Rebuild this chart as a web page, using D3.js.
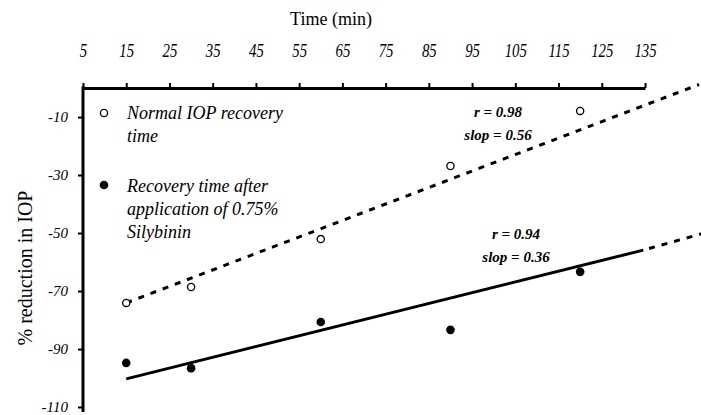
<!DOCTYPE html>
<html><head><meta charset="utf-8">
<script src="https://cdn.jsdelivr.net/npm/d3@7/dist/d3.min.js"></script>
<style>body{margin:0;background:#fff}svg{display:block}</style>
</head><body><svg id="c" width="701" height="415"></svg>
<script>
const times = [15, 30, 60, 90, 120];
const normalIOP = [-74.1, -68.6, -52.1, -26.9, -7.9];
const silybinin = [-94.8, -96.6, -80.7, -83.4, -63.4];
const xTicks = [5,15,25,35,45,55,65,75,85,95,105,115,125,135];
const yTicks = [-10,-30,-50,-70,-90,-110];
const normalTrend = [[15,-74.1],[147.5,1.2]];
const silyTrend = [[15,-100.3],[134.6,-55.9]];
const silyTrendExt = [[134.6,-55.9],[148,-50.3]];
const legendNormal = ["Normal IOP recovery","time"];
const legendSily = ["Recovery time after","application of 0.75%","Silybinin"];
const statsNormal = ["r = 0.98","slop = 0.56"];
const statsSily = ["r = 0.94","slop = 0.36"];

const svg = d3.select("#c");
const x = d3.scaleLinear().domain([5,135]).range([83,645]);
const y = d3.scaleLinear().domain([0,-110]).range([88,407]);
const serif = "'Liberation Serif','Times New Roman',serif";
const fmt = d => String(d);

// title
svg.append("text").attr("x",331).attr("y",25).attr("text-anchor","middle")
  .attr("font-family",serif).attr("font-size",18).text("Time (min)");

// top axis
const gx = svg.append("g").attr("transform",`translate(0,${y(0)})`)
  .call(d3.axisTop(x).tickValues(xTicks).tickFormat(fmt).tickSize(5).tickSizeOuter(0).tickPadding(26));
gx.select(".domain").attr("stroke-width",3);
gx.selectAll(".tick line").attr("stroke-width",2);
gx.selectAll(".tick text").attr("font-family",serif).attr("font-style","italic")
  .attr("font-size",19).attr("fill","#000").attr("dy",0).attr("transform","scale(0.78,1)")
  .attr("x",0);

// left axis
const gy = svg.append("g").attr("transform",`translate(${x(5)},0)`)
  .call(d3.axisLeft(y).tickValues(yTicks).tickFormat(fmt).tickSize(5).tickSizeOuter(0).tickPadding(10));
gy.select(".domain").attr("stroke-width",3).attr("d",`M0,${y(0)-1.5}V${y(-110)+5}`);
gy.selectAll(".tick line").attr("stroke-width",2);
gy.selectAll(".tick text").attr("font-family",serif).attr("font-style","italic")
  .attr("font-size",15).attr("fill","#000");

svg.append("text").attr("transform",`translate(32,268) rotate(-90)`).attr("text-anchor","middle")
  .attr("font-family",serif).attr("font-size",20).text("% reduction in IOP");

const line = d3.line().x(d=>x(d[0])).y(d=>y(d[1]));
svg.append("path").attr("d",line(normalTrend)).attr("fill","none").attr("stroke","#000")
  .attr("stroke-width",3).attr("stroke-dasharray","6,7");
svg.append("path").attr("d",line(silyTrend)).attr("fill","none").attr("stroke","#000")
  .attr("stroke-width",3);
svg.append("path").attr("d",line(silyTrendExt)).attr("fill","none").attr("stroke","#000")
  .attr("stroke-width",3).attr("stroke-dasharray","6,7").attr("stroke-dashoffset",-6);

svg.selectAll(".open").data(times).join("circle").attr("class","open")
  .attr("cx",d=>x(d)).attr("cy",(d,i)=>y(normalIOP[i])).attr("r",3.6)
  .attr("fill","#fff").attr("stroke","#000").attr("stroke-width",1.3);
svg.selectAll(".filled").data(times).join("circle").attr("class","filled")
  .attr("cx",d=>x(d)).attr("cy",(d,i)=>y(silybinin[i])).attr("r",4.3).attr("fill","#000");

// legend
svg.append("circle").attr("cx",104).attr("cy",113).attr("r",3.6).attr("fill","#fff")
  .attr("stroke","#000").attr("stroke-width",1.3);
svg.append("circle").attr("cx",104).attr("cy",185).attr("r",4.3).attr("fill","#000");
const lt = (lines, y0) => lines.forEach((t,i)=>svg.append("text").attr("x",127).attr("y",y0+i*23)
  .attr("font-family",serif).attr("font-style","italic").attr("font-size",18).text(t));
lt(legendNormal,119);
lt(legendSily,192);

const st = (lines, cx, y0) => lines.forEach((t,i)=>svg.append("text").attr("x",cx).attr("y",y0+i*23)
  .attr("text-anchor","middle").attr("font-family",serif).attr("font-style","italic")
  .attr("font-weight","bold").attr("font-size",15).text(t));
st(statsNormal,498,117);
st(statsSily,516,239);
</script></body></html>
